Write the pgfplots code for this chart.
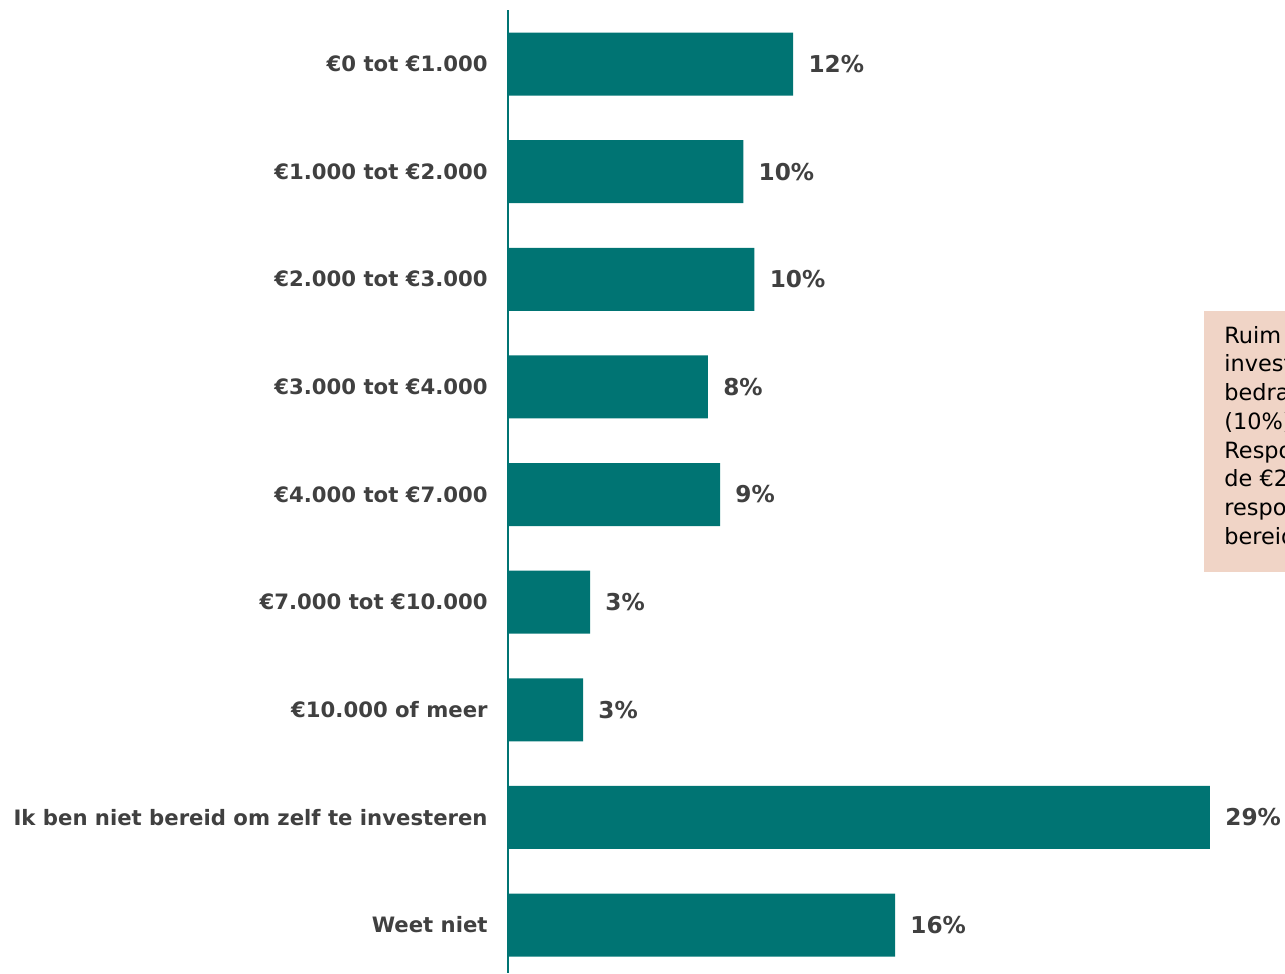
\documentclass[border=0pt]{standalone}
\usepackage{fontspec}
\setmainfont{DejaVu Sans}
\usepackage{pgfplots}
\pgfplotsset{compat=1.18}
\definecolor{teal1}{HTML}{007473}
\definecolor{lab}{HTML}{404040}
\definecolor{boxc}{HTML}{F0D4C6}
\begin{document}
\begin{tikzpicture}
\begin{axis}[name=ax,
  xbar, scale only axis, width=388.5pt, height=481.5pt,
  xmin=0, xmax=32.1, ymin=-0.502, ymax=8.446, y dir=reverse,
  bar width=31.5pt, bar shift=0pt,
  axis x line=none, axis y line*=left,
  axis line style={teal1, line width=1pt, -},
  ytick={0,...,8},
  yticklabels={€0 tot €1.000, €1.000 tot €2.000, €2.000 tot €3.000, €3.000 tot €4.000, €4.000 tot €7.000, €7.000 tot €10.000, €10.000 of meer, Ik ben niet bereid om zelf te investeren, Weet niet},
  major tick length=0pt,
  yticklabel style={font=\bfseries\fontsize{10.6}{13}\selectfont, text=lab, anchor=east, inner sep=0pt, xshift=-10pt},
  nodes near coords, point meta=explicit symbolic,
  nodes near coords style={font=\bfseries\fontsize{11.6}{13}\selectfont, text=lab, anchor=west, inner sep=0pt, xshift=7.5pt},
  clip=false,
]
\addplot[fill=teal1, draw=none] coordinates {
  (11.78,0) [12\%]
  (9.72,1) [10\%]
  (10.18,2) [10\%]
  (8.26,3) [8\%]
  (8.76,4) [9\%]
  (3.39,5) [3\%]
  (3.10,6) [3\%]
  (29.0,7) [29\%]
  (15.99,8) [16\%]
};
\fill[boxc] (axis cs:28.75,2.296) rectangle (axis cs:40,4.72);
\node[anchor=base west, inner sep=0pt, font=\fontsize{11.2}{12}\selectfont] at (axis cs:29.58,2.593) {Ruim een derde};
\node[anchor=base west, inner sep=0pt, font=\fontsize{11.2}{12}\selectfont] at (axis cs:29.58,2.861) {investeren};
\node[anchor=base west, inner sep=0pt, font=\fontsize{11.2}{12}\selectfont] at (axis cs:29.58,3.128) {bedrag};
\node[anchor=base west, inner sep=0pt, font=\fontsize{11.2}{12}\selectfont] at (axis cs:29.58,3.396) {(10\%)};
\node[anchor=base west, inner sep=0pt, font=\fontsize{11.2}{12}\selectfont] at (axis cs:29.58,3.663) {Respondenten};
\node[anchor=base west, inner sep=0pt, font=\fontsize{11.2}{12}\selectfont] at (axis cs:29.58,3.924) {de €2.000};
\node[anchor=base west, inner sep=0pt, font=\fontsize{11.2}{12}\selectfont] at (axis cs:29.58,4.193) {respondenten};
\node[anchor=base west, inner sep=0pt, font=\fontsize{11.2}{12}\selectfont] at (axis cs:29.58,4.460) {bereid};
\end{axis}
\pgfresetboundingbox
\path[use as bounding box] ([xshift=-254pt]ax.south west) rectangle ([yshift=5pt]ax.north east);
\end{tikzpicture}
\end{document}
